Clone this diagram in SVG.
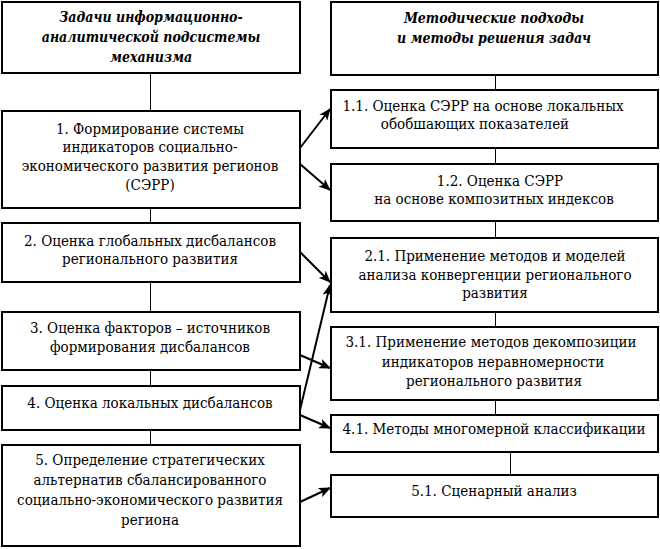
<svg xmlns="http://www.w3.org/2000/svg" width="660" height="549" viewBox="0 0 660 549">
<style>
  .box { fill: #fff; stroke: #000; stroke-width: 2; }
  .t { font-family: 'DejaVu Serif Condensed', 'DejaVu Serif', serif; font-stretch: condensed; font-size: 15px; fill: #000; text-anchor: middle; }
  .h { font-style: italic; font-weight: bold; font-size: 14px; }
  .ln { stroke: #000; stroke-width: 1; fill: none; }
  .ar { stroke: #000; stroke-width: 2; fill: none; marker-end: url(#ah); }
</style>
<defs>
  <marker id="ah" markerUnits="userSpaceOnUse" markerWidth="12" markerHeight="10" refX="11" refY="5" orient="auto">
    <path d="M0,0 L12,5 L0,10 L3,5 Z" fill="#000"/>
  </marker>
</defs>
<rect width="660" height="549" fill="#fff"/>
<g id="connectors">
  <line class="ln" x1="150.5" y1="73" x2="150.5" y2="111"/>
  <line class="ln" x1="150.5" y1="208" x2="150.5" y2="223"/>
  <line class="ln" x1="150.5" y1="282" x2="150.5" y2="312"/>
  <line class="ln" x1="150.5" y1="370" x2="150.5" y2="386"/>
  <line class="ln" x1="150.5" y1="430" x2="150.5" y2="445"/>
  <line class="ln" x1="495.5" y1="75" x2="495.5" y2="90"/>
  <line class="ln" x1="495.5" y1="148" x2="495.5" y2="164"/>
  <line class="ln" x1="495.5" y1="221" x2="495.5" y2="238"/>
  <line class="ln" x1="495.5" y1="312" x2="495.5" y2="327"/>
  <line class="ln" x1="495.5" y1="400" x2="495.5" y2="415"/>
  <line class="ln" x1="510.5" y1="452" x2="510.5" y2="475"/>
  <line class="ar" x1="300" y1="148" x2="330" y2="109"/>
  <line class="ar" x1="300" y1="164" x2="330" y2="190"/>
  <line class="ar" x1="300" y1="252" x2="330" y2="282"/>
  <line class="ar" x1="299" y1="414" x2="330" y2="285"/>
  <line class="ar" x1="300" y1="355" x2="330" y2="368"/>
  <line class="ar" x1="300" y1="415" x2="330" y2="428"/>
  <line class="ar" x1="300" y1="502" x2="330" y2="488"/>
</g>
<g id="hdr-left">
  <rect class="box" x="2" y="2" width="298" height="71"/>
  <text class="t h" x="151" y="22">Задачи информационно-</text>
  <text class="t h" x="151" y="42">аналитической подсистемы</text>
  <text class="t h" x="151" y="62">механизма</text>
</g>
<g id="hdr-right">
  <rect class="box" x="331" y="2" width="327" height="73"/>
  <text class="t h" x="494" y="23">Методические подходы</text>
  <text class="t h" x="494" y="43">и методы решения задач</text>
</g>
<g id="n1">
  <rect class="box" x="2" y="111" width="298" height="97"/>
  <text class="t" x="150" y="134">1. Формирование системы</text>
  <text class="t" x="150" y="152">индикаторов социально-</text>
  <text class="t" x="150" y="171">экономического развития регионов</text>
  <text class="t" x="150" y="190">(СЭРР)</text>
</g>
<g id="n2">
  <rect class="box" x="2" y="223" width="298" height="59"/>
  <text class="t" x="150" y="246">2. Оценка глобальных дисбалансов</text>
  <text class="t" x="150" y="264">регионального развития</text>
</g>
<g id="n3">
  <rect class="box" x="2" y="312" width="298" height="58"/>
  <text class="t" x="150" y="333">3. Оценка факторов – источников</text>
  <text class="t" x="150" y="352">формирования дисбалансов</text>
</g>
<g id="n4">
  <rect class="box" x="2" y="386" width="298" height="44"/>
  <text class="t" x="150" y="408">4. Оценка локальных дисбалансов</text>
</g>
<g id="n5">
  <rect class="box" x="2" y="445" width="298" height="101"/>
  <text class="t" x="150" y="465">5. Определение стратегических</text>
  <text class="t" x="150" y="485">альтернатив сбалансированного</text>
  <text class="t" x="150" y="505">социально-экономического развития</text>
  <text class="t" x="150" y="525">региона</text>
</g>
<g id="n11">
  <rect class="box" x="331" y="90" width="327" height="58"/>
  <text class="t" x="483" y="111">1.1. Оценка СЭРР на основе локальных</text>
  <text class="t" x="475" y="129">обобшающих показателей</text>
</g>
<g id="n12">
  <rect class="box" x="331" y="164" width="327" height="57"/>
  <text class="t" x="500" y="186">1.2. Оценка СЭРР</text>
  <text class="t" x="494" y="204">на основе композитных индексов</text>
</g>
<g id="n21">
  <rect class="box" x="331" y="238" width="327" height="74"/>
  <text class="t" x="495" y="261">2.1. Применение методов и моделей</text>
  <text class="t" x="495" y="280">анализа конвергенции регионального</text>
  <text class="t" x="495" y="298">развития</text>
</g>
<g id="n31">
  <rect class="box" x="331" y="327" width="327" height="73"/>
  <text class="t" x="491" y="347">3.1. Применение методов декомпозиции</text>
  <text class="t" x="493" y="367">индикаторов неравномерности</text>
  <text class="t" x="494" y="386">регионального развития</text>
</g>
<g id="n41">
  <rect class="box" x="331" y="415" width="327" height="37"/>
  <text class="t" x="494" y="434">4.1. Методы многомерной классификации</text>
</g>
<g id="n51">
  <rect class="box" x="331" y="475" width="327" height="42"/>
  <text class="t" x="494" y="496">5.1. Сценарный анализ</text>
</g>
</svg>
